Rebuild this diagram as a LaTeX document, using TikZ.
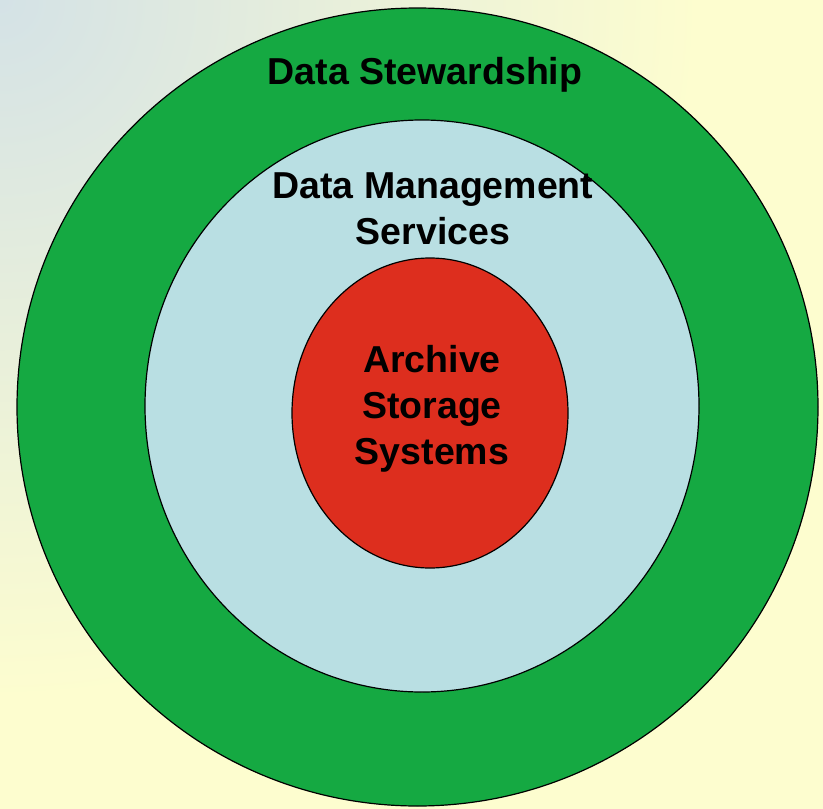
\documentclass[tikz,border=0pt]{standalone}
\usepackage{fontspec}
\setmainfont{Liberation Sans}
\definecolor{bgleft}{HTML}{D4E2E6}
\definecolor{bgright}{HTML}{FDFDCF}
\definecolor{ringgreen}{HTML}{15A942}
\definecolor{midblue}{HTML}{B9DFE3}
\definecolor{corered}{HTML}{DD2E1E}
\pgfdeclareradialshading{bgshade}{\pgfpoint{0bp}{0bp}}{color(0bp)=(bgleft); color(25bp)=(bgright); color(50bp)=(bgright)}
\tikzset{
  ring/.style={draw=black, line width=1.2pt},
  lbl/.style={font=\bfseries\fontsize{37.5}{46}\selectfont, align=center, inner sep=0pt, text=black}
}
\begin{document}
\begin{tikzpicture}[x=1pt,y=-1pt]
\useasboundingbox (0,0) rectangle (823,809);
\fill[bgright] (0,0) rectangle (823,809);
\begin{scope}
\clip (0,0) rectangle (823,809);
\shade[shading=bgshade] (0,0) circle [radius=700];
\end{scope}
\draw[ring, fill=ringgreen] (417.5,407) ellipse [x radius=400.5, y radius=399];
\draw[ring, fill=midblue] (422,406) ellipse [x radius=277, y radius=286];
\draw[ring, fill=corered] (430,413) ellipse [x radius=138, y radius=155];
\node[lbl] (steward) at (425,75) {Data Stewardship};
\node[lbl] (dms) at (433,209) {Data Management\\Services};
\node[lbl] (ass) at (432,409) {Archive\\Storage\\Systems};
\end{tikzpicture}
\end{document}
